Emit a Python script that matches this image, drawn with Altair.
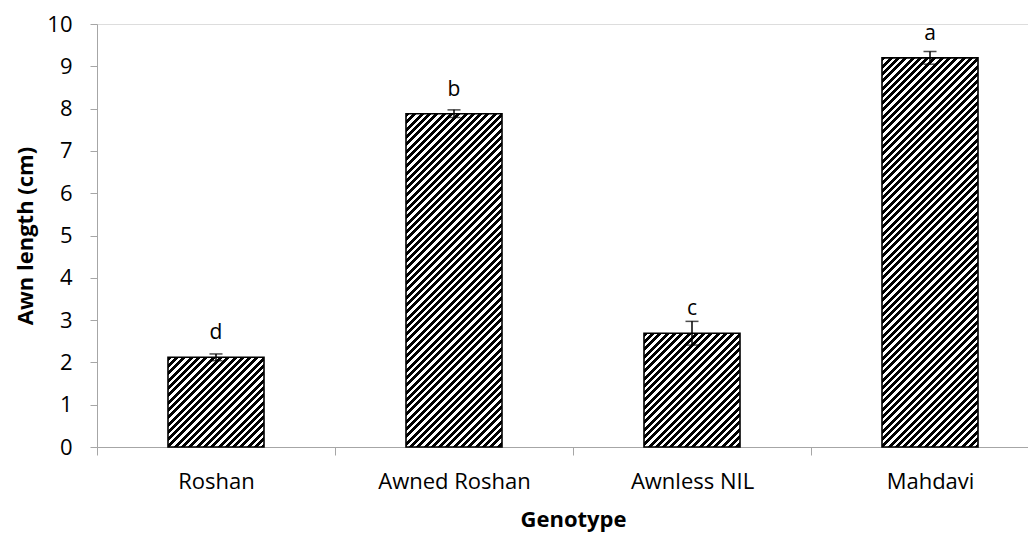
import math
import altair as alt
import pandas as pd

# ---- data ----
genotypes = ["Roshan", "Awned Roshan", "Awnless NIL", "Mahdavi"]
awn_length = [2.12, 7.88, 2.69, 9.20]
err = [0.08, 0.09, 0.28, 0.15]
letters = ["d", "b", "c", "a"]

df = pd.DataFrame({
    "genotype": genotypes,
    "value": awn_length,
    "lower": [v - e for v, e in zip(awn_length, err)],
    "upper": [v + e for v, e in zip(awn_length, err)],
    "letter": letters,
})

# ---- layout / style ----
PLOT_W = 931
PLOT_H = 423
STEP = 238
BAR_W = 96
FONT = "Open Sans"
AXIS_GREY = "#a6a6a6"


def hatch(bar_h, bar_w=BAR_W, period=7.3, black=0.55):
    """Linear gradient giving 45-degree '/' black/white stripes on a bar."""
    span = bar_w + bar_h
    k = span / (bar_w ** 2 + bar_h ** 2)
    stops = []
    n = int(math.ceil(span / period)) + 1
    for j in range(n):
        a = min(1.0, j * period / span)
        b = min(1.0, (j + black) * period / span)
        c = min(1.0, (j + 1) * period / span)
        stops += [
            {"offset": a, "color": "#000000"},
            {"offset": b, "color": "#000000"},
            {"offset": b, "color": "#ffffff"},
            {"offset": c, "color": "#ffffff"},
        ]
        if c >= 1.0:
            break
    return {"gradient": "linear", "x1": 0, "y1": 0, "x2": k * bar_w, "y2": k * bar_h,
            "stops": stops}


grads = [hatch(v / 10 * PLOT_H) for v in awn_length]
color_cond = [
    {"test": f"datum.genotype === '{g}'", "value": gr}
    for g, gr in zip(genotypes[:-1], grads[:-1])
]

x_enc = alt.X(
    "genotype:N",
    sort=genotypes,
    title="Genotype",
    scale=alt.Scale(range=[0, STEP * len(genotypes)], paddingInner=0, paddingOuter=0),
    axis=alt.Axis(
        labelAngle=0,
        tickBand="extent",
        domainColor=AXIS_GREY,
        tickColor=AXIS_GREY,
        tickSize=8,
        labelPadding=16,
        labelFont=FONT,
        labelFontSize=22,
        labelColor="#000000",
        titleFont=FONT,
        titleFontSize=22,
        titleFontWeight="bold",
        titleColor="#000000",
        titlePadding=17,
    ),
)

y_scale = alt.Scale(domain=[0, 10], nice=False)
y_enc = alt.Y(
    "value:Q",
    scale=y_scale,
    title="Awn length (cm)",
    axis=alt.Axis(
        values=list(range(0, 11)),
        grid=False,
        domainColor=AXIS_GREY,
        tickColor=AXIS_GREY,
        tickSize=7,
        labelPadding=18,
        labelFont=FONT,
        labelFontSize=22,
        labelColor="#000000",
        titleFont=FONT,
        titleFontSize=22,
        titleFontWeight="bold",
        titleColor="#000000",
        titlePadding=9,
    ),
)

base = alt.Chart(df)

bars = base.mark_bar(
    width=alt.RelativeBandSize(BAR_W / STEP),
    stroke="#000000",
    strokeWidth=1.6,
).encode(
    x=x_enc,
    y=y_enc,
    color=alt.ColorValue(value=grads[-1], condition=color_cond),
)

rules = base.mark_rule(color="#000000", strokeWidth=1.5).encode(
    x=alt.X("genotype:N", sort=genotypes),
    y=alt.Y("lower:Q", scale=y_scale),
    y2="upper:Q",
)

cap_hi = base.mark_tick(color="#000000", size=13, thickness=1.5).encode(
    x=alt.X("genotype:N", sort=genotypes),
    y=alt.Y("upper:Q", scale=y_scale),
)
cap_lo = base.mark_tick(color="#000000", size=13, thickness=1.5).encode(
    x=alt.X("genotype:N", sort=genotypes),
    y=alt.Y("lower:Q", scale=y_scale),
)

text = base.mark_text(
    font=FONT, fontSize=21, color="#000000", baseline="alphabetic", dy=-18
).encode(
    x=alt.X("genotype:N", sort=genotypes),
    y=alt.Y("value:Q", scale=y_scale),
    text="letter:N",
)

chart = (
    alt.layer(bars, rules, cap_hi, cap_lo, text)
    .properties(
        width=PLOT_W,
        height=PLOT_H,
        autosize=alt.AutoSizeParams(type="none"),
        padding={"left": 89, "top": 16, "right": 0, "bottom": 86},
    )
    .configure_view(stroke=None)
    .configure(background="#ffffff")
)

chart.save("out.html", embed_options={"renderer": "svg", "actions": False})
